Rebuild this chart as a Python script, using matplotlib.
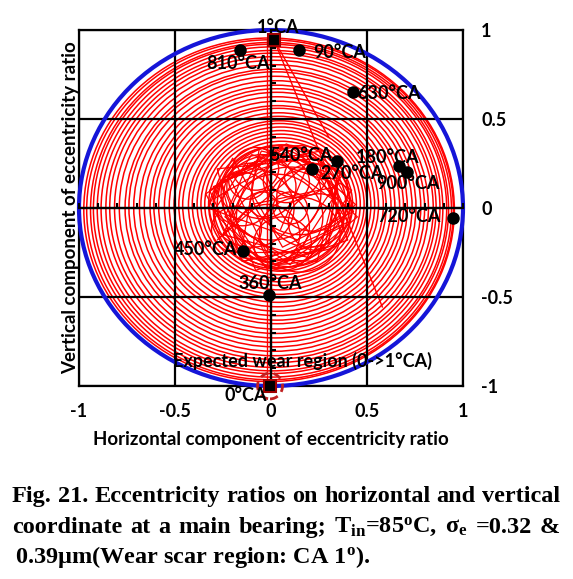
import matplotlib
matplotlib.use('Agg')
import matplotlib.pyplot as plt
from matplotlib.patches import Circle, Ellipse
from matplotlib.ticker import MultipleLocator

plt.rcParams['mathtext.fontset'] = 'custom'
plt.rcParams['mathtext.rm'] = 'Liberation Serif:bold'
plt.rcParams['mathtext.it'] = 'Liberation Serif:bold'
plt.rcParams['mathtext.bf'] = 'Liberation Serif:bold'

# ---- data ----
# labelled crank angle points (eccentricity ratio, horizontal / vertical)
pt_labels = ['810°CA', '90°CA', '630°CA', '540°CA', '270°CA', '180°CA',
             '900°CA', '720°CA', '450°CA', '360°CA']
pt_x = [-0.16, 0.146, 0.427, 0.344, 0.213, 0.667, 0.708, 0.948, -0.146, -0.01]
pt_y = [0.89, 0.89, 0.652, 0.264, 0.219, 0.236, 0.202, -0.056, -0.242, -0.489]

# wear region end points (squares)
wear_labels = ['1°CA', '0°CA']
wear_x = [0.016, -0.005]
wear_y = [0.944, -1.0]

# spiral rings of the orbit (radius, centre)
ring_r = [0.965, 0.955, 0.94, 0.925, 0.91, 0.89, 0.87, 0.85, 0.83, 0.805,
          0.78, 0.76, 0.735, 0.71, 0.685, 0.66, 0.64, 0.615, 0.59, 0.565,
          0.545, 0.52, 0.50, 0.475, 0.455, 0.435, 0.415, 0.395, 0.375, 0.355,
          0.335]
ring_cx = [-0.01, -0.005, 0.0, 0.0, 0.005, 0.005, 0.01, 0.01, 0.015, 0.015,
           0.02, 0.02, 0.02, 0.025, 0.025, 0.03, 0.03, 0.03, 0.035, 0.035,
           0.04, 0.04, 0.04, 0.045, 0.045, 0.05, 0.05, 0.05, 0.05, 0.055,
           0.055]
ring_cy = [-0.01, -0.01, -0.01, -0.005, -0.005, -0.005, 0.0, 0.0, 0.0, 0.0,
           0.0, 0.005, 0.005, 0.005, 0.005, 0.01, 0.01, 0.01, 0.01, 0.01,
           0.015, 0.015, 0.015, 0.015, 0.02, 0.02, 0.02, 0.02, 0.02, 0.02,
           0.02]

# small loops inside the central tangle
loop_x = [0.05, -0.10, 0.15, 0.00, 0.10, -0.05, 0.20, -0.15, 0.08, 0.02,
          -0.02, 0.12, 0.25, -0.18, 0.06, 0.18, -0.08, 0.00, 0.22, -0.12,
          0.10, 0.03, 0.15, -0.04]
loop_y = [0.05, 0.00, 0.10, -0.10, -0.05, 0.12, 0.00, 0.05, 0.15, -0.02,
          -0.15, 0.20, -0.08, -0.12, -0.20, 0.18, 0.22, 0.08, 0.06, 0.15,
          0.00, -0.05, -0.15, 0.02]
loop_r = [0.30, 0.22, 0.25, 0.20, 0.28, 0.18, 0.22, 0.15, 0.12, 0.32,
          0.17, 0.14, 0.16, 0.13, 0.15, 0.11, 0.12, 0.26, 0.19, 0.10,
          0.09, 0.24, 0.21, 0.07]

# criss-cross path of the tangle
tangle_x = [-0.30, 0.10, 0.42, 0.20, -0.25, -0.05, 0.35, 0.30, -0.15, -0.32,
            0.05, 0.45, 0.15, -0.20, -0.28, 0.25, 0.40, -0.02, -0.30, -0.10,
            0.30, 0.38, 0.00, -0.22, 0.12, 0.44, 0.22, -0.18, -0.34, 0.08,
            0.36, 0.28, -0.08, -0.26, 0.18, 0.40, -0.05, -0.30, 0.02, 0.32,
            0.10, -0.24, -0.12, 0.26, 0.43, 0.06, -0.20, -0.33, 0.14, 0.38,
            -0.06, -0.16, 0.24, 0.34, -0.10, -0.28, 0.20, 0.05]
tangle_y = [0.05, 0.30, 0.10, -0.28, -0.15, 0.32, 0.22, -0.20, -0.30, 0.10,
            0.35, -0.05, -0.32, -0.10, 0.22, 0.28, -0.18, -0.34, -0.02, 0.30,
            0.15, -0.10, -0.30, 0.18, 0.33, 0.02, -0.25, -0.25, 0.08, 0.36,
            0.20, -0.22, -0.35, 0.15, 0.30, -0.08, -0.30, 0.12, 0.28, 0.05,
            -0.32, -0.05, 0.25, 0.32, -0.02, -0.22, 0.28, 0.00, -0.18, 0.20,
            0.34, -0.28, -0.30, 0.12, 0.02, -0.18, 0.26, -0.12]

# straight jumps of the orbit
jump_x = [[0.016, 0.58], [-0.02, -0.02], [0.016, 0.30]]
jump_y = [[0.944, -0.556], [0.944, -1.0], [0.944, 0.40]]

ticks = [-1, -0.5, 0, 0.5, 1]
tick_text = ['-1', '-0.5', '0', '0.5', '1']

# label offsets in points (layout only)
pt_offsets = [(-2, -10, 'center'), (10, -2, 'left'), (3, -1, 'left'),
              (-3, 4, 'right'), (6, -3, 'left'), (-8, 6, 'center'),
              (1, -8, 'center'), (-9, 1, 'right'), (-4, 1, 'right'),
              (1, 8, 'center')]
wear_offsets = [(3, 9, 'center'), (-2, -7, 'right')]

W, H = 573, 579
fig = plt.figure(figsize=(W / 100, H / 100), dpi=100)
pos = [79 / W, 1 - 386 / H, 384 / W, 356 / H]
ax = fig.add_axes(pos)
ax.set_xlim(-1, 1)
ax.set_ylim(-1, 1)

lab_font = dict(family='Lato', weight='bold', size=13)
tick_font = dict(family='Lato', weight='bold', size=13)

ax.set_xticks(ticks)
ax.set_yticks(ticks)
ax.set_xticklabels(tick_text, fontdict=tick_font)
ax.set_yticklabels(tick_text, fontdict=tick_font)
ax.yaxis.tick_right()
ax.tick_params(length=0, pad=12)
ax.tick_params(axis='y', pad=13)
ax.grid(True, color='black', lw=1.6)
ax.set_axisbelow(False)
for s in ax.spines.values():
    s.set_linewidth(1.6)

ax.set_xlabel('Horizontal component of eccentricity ratio', family='Lato',
              weight='bold', size=13.5, labelpad=8)
ax.yaxis.set_label_position('left')
ax.set_ylabel('Vertical component of eccentricity ratio', family='Lato',
              weight='bold', size=13.5, labelpad=0)

# orbit
for r, cx, cy in zip(ring_r, ring_cx, ring_cy):
    ax.add_patch(Circle((cx, cy), r, fill=False, ec='red', lw=1.1, zorder=2))
for r, cx, cy in zip(loop_r, loop_x, loop_y):
    ax.add_patch(Circle((cx, cy), r, fill=False, ec='red', lw=1.0, zorder=2))
ax.plot(tangle_x, tangle_y, color='red', lw=0.9, zorder=2)
for jx, jy in zip(jump_x, jump_y):
    ax.plot(jx, jy, color='red', lw=1.0, zorder=2)

# bearing clearance circle
ax.add_patch(Circle((0, 0), 1, fill=False, ec='#1515d8', lw=3, zorder=3,
                    clip_on=False))

# overlay axes with small ticks on the centre lines
axc = fig.add_axes(pos)
axc.set_xlim(-1, 1)
axc.set_ylim(-1, 1)
axc.patch.set_visible(False)
axc.spines['right'].set_visible(False)
axc.spines['top'].set_visible(False)
axc.spines['left'].set_position(('data', 0))
axc.spines['bottom'].set_position(('data', 0))
axc.spines['left'].set_linewidth(1.6)
axc.spines['bottom'].set_linewidth(1.6)
axc.xaxis.set_major_locator(MultipleLocator(0.1))
axc.yaxis.set_major_locator(MultipleLocator(0.1))
axc.tick_params(direction='in', length=3.5, width=1.5, labelbottom=False,
                labelleft=False)

# marked points
axc.plot(pt_x, pt_y, 'o', color='black', ms=8, zorder=5, clip_on=False)
for lab, x, y, (dx, dy, ha) in zip(pt_labels, pt_x, pt_y, pt_offsets):
    axc.annotate(lab, (x, y), xytext=(dx, dy), textcoords='offset points',
                 ha=ha, va='center', zorder=6, annotation_clip=False, **lab_font)

axc.plot(wear_x, wear_y, 's', color='black', mec='#a00000', mew=1.5, ms=9,
         zorder=5, clip_on=False)
for lab, x, y, (dx, dy, ha) in zip(wear_labels, wear_x, wear_y, wear_offsets):
    axc.annotate(lab, (x, y), xytext=(dx, dy), textcoords='offset points',
                 ha=ha, va='center', zorder=6, annotation_clip=False, **lab_font)
axc.add_patch(Ellipse((wear_x[1], wear_y[1]), 0.13, 0.145, fill=False,
                      ec='#c02020', lw=2, ls=(0, (3, 2)), clip_on=False, zorder=4))
axc.annotate('Expected wear region (0->1°CA)', (wear_x[1], wear_y[1]),
             xytext=(-70, 18), textcoords='offset points', ha='left',
             va='center', zorder=6, annotation_clip=False, **lab_font)

# caption, justified like the paper
cap_font = dict(family='Liberation Serif', weight='bold', size=17.5)
renderer = fig.canvas.get_renderer()


def justify(words, y, x0=12, x1=560):
    texts = [fig.text(0, y, w, va='baseline', **cap_font) for w in words]
    widths = [t.get_window_extent(renderer).width for t in texts]
    gap = (x1 - x0 - sum(widths)) / (len(words) - 1)
    x = x0
    for t, w in zip(texts, widths):
        t.set_x(x / W)
        x += w + gap


justify('Fig. 21. Eccentricity ratios on horizontal and vertical'.split(),
        1 - 502 / H)
justify(['coordinate', 'at', 'a', 'main', 'bearing;',
         r'T$_{\mathrm{in}}$=85$^{\mathrm{o}}$C,', r'σ$_{\mathrm{e}}$',
         '=0.32', '&'], 1 - 533 / H)
fig.text(15 / W, 1 - 563 / H,
         r'0.39μm(Wear scar region: CA 1$^{\mathrm{o}}$).', va='baseline',
         **cap_font)

fig.savefig('out.png', dpi=100)
